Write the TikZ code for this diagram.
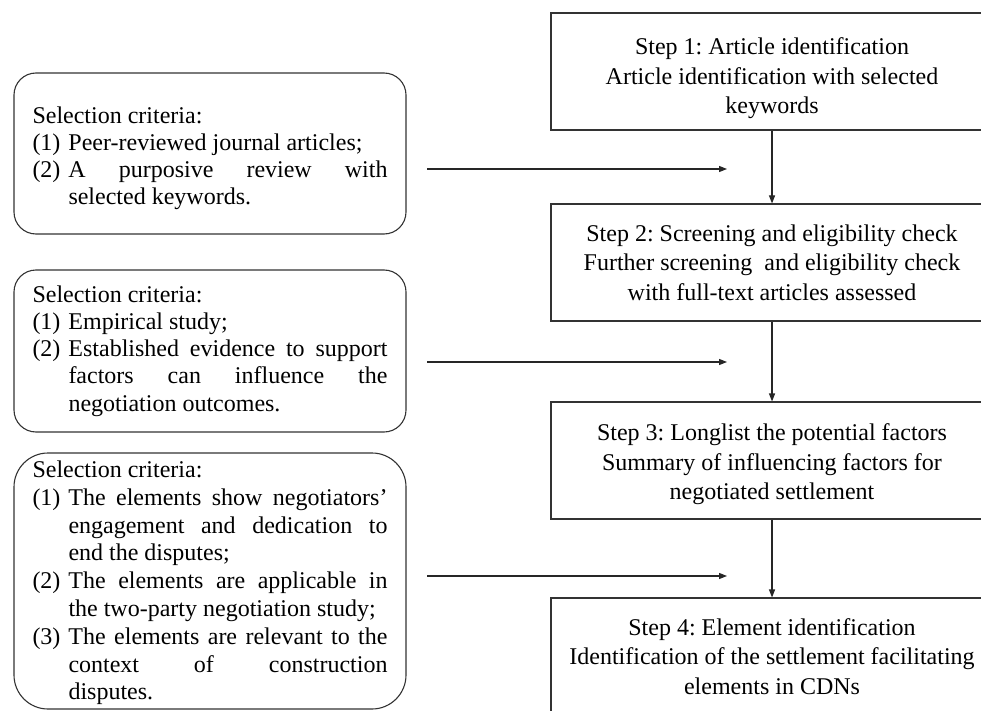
\documentclass[tikz,border=0pt]{standalone}
\usepackage{fontspec}
\setmainfont{Liberation Serif}
\usetikzlibrary{arrows.meta}
\frenchspacing
\newcommand{\critem}[1]{\hangindent=36pt\hangafter=1\noindent\hbox to 36pt{#1\hfil}}
\newcommand{\critsetup}[1]{\fontsize{24}{#1}\selectfont\frenchspacing\tolerance=10000\hbadness=10000\hyphenpenalty=10000\exhyphenpenalty=10000\parindent=0pt}
\begin{document}
\begin{tikzpicture}[x=1pt,y=-1pt,
  lbox/.style={draw=black!80, line width=1.1pt, rounded corners=22pt,
    minimum width=392pt, inner sep=0pt},
  rbox/.style={draw=black!80, line width=1.1pt, minimum width=442pt,
    minimum height=117pt, inner sep=0pt, align=center,
    font=\fontsize{24}{29.5}\selectfont\frenchspacing},
  conn/.style={line width=1.1pt, draw=black!85,
    -{Triangle[length=8pt,width=6pt]}}]
\clip (0,0) rectangle (981,711);
\fill[white] (0,0) rectangle (981,711);

% left criteria boxes
\node[lbox, minimum height=161pt] (l1) at (210,153.5) {\parbox{355pt}{\critsetup{27}\vspace*{9pt}%
Selection criteria:\par
\critem{(1)}Peer-reviewed journal articles;\par
\critem{(2)}A purposive review with\linebreak selected keywords.\par}};

\node[lbox, minimum height=162pt] (l2) at (210,351) {\parbox{355pt}{\critsetup{27.2}%
Selection criteria:\par
\critem{(1)}Empirical study;\par
\critem{(2)}Established evidence to support\linebreak factors can influence the\linebreak negotiation outcomes.\par}};

\node[lbox, rounded corners=34pt, minimum height=256pt] (l3) at (210,581) {\parbox{355pt}{\critsetup{27.8}\vspace*{4pt}%
Selection criteria:\par
\critem{(1)}The elements show negotiators'\linebreak engagement and dedication to\linebreak end the disputes;\par
\critem{(2)}The elements are applicable in\linebreak the two-party negotiation study;\par
\critem{(3)}The elements are relevant to the\linebreak context of construction\linebreak disputes.\par}};

% right step boxes
\node[rbox] (r1) at (772,71.5) {\rule{0pt}{31pt}Step 1: Article identification\\Article identification with selected\\keywords};
\node[rbox] (r2) at (772,262.5) {Step 2: Screening and eligibility check\\Further screening\ \ and eligibility check\\with full-text articles assessed};
\node[rbox] (r3) at (772,460.5) {\rule{0pt}{25pt}Step 3: Longlist the potential factors\\Summary of influencing factors for\\negotiated settlement};
\node[rbox] (r4) at (772,656.5) {Step 4: Element identification\\Identification of the settlement facilitating\\elements in CDNs};

% vertical connectors
\draw[conn] (r1.south) -- (r2.north);
\draw[conn] (r2.south) -- (r3.north);
\draw[conn] (r3.south) -- (r4.north);

% horizontal arrows
\coordinate (h1a) at (427,169);
\coordinate (h1b) at (727,169);
\coordinate (h2a) at (427,362);
\coordinate (h2b) at (727,362);
\coordinate (h3a) at (427,576);
\coordinate (h3b) at (727,576);
\draw[conn] (h1a) -- (h1b);
\draw[conn] (h2a) -- (h2b);
\draw[conn] (h3a) -- (h3b);
\end{tikzpicture}
\end{document}
